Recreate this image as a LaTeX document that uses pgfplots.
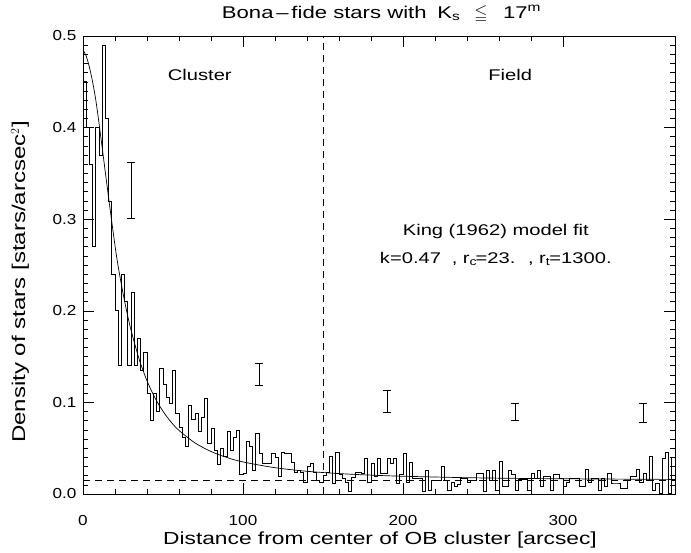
\documentclass[border=0pt]{standalone}
\usepackage{pgfplots}
\pgfplotsset{compat=1.18}
\usepackage{amssymb}
\usepackage{fontspec}
\setmainfont{Liberation Sans}[FakeStretch=1.3]
\newfontfamily\tickfont{Liberation Sans}[FakeStretch=1.18]
\begin{document}
\begin{tikzpicture}
\begin{axis}[
  scale only axis,
  width=592pt, height=458pt,
  xmin=0, xmax=370, ymin=0, ymax=0.5,
  xtick={0,100,200,300}, minor x tick num=4,
  ytick={0,0.1,0.2,0.3,0.4,0.5}, minor y tick num=9,
  tick align=inside, tick pos=both,
  major tick length=11pt, minor tick length=5pt,
  every tick/.style={black, line width=0.6pt},
  axis line style={line width=0.8pt},
  /pgf/number format/assume math mode=true,
  yticklabel style={/pgf/number format/fixed, /pgf/number format/fixed zerofill, /pgf/number format/precision=1, anchor=east, xshift=-3pt},
  xticklabel style={anchor=center, yshift=-27pt},
  ticklabel style={font=\tickfont\fontsize{14.5}{16}\selectfont},
  clip=true,
]
\coordinate (bl) at (rel axis cs:0,0);
% histogram
\addplot[const plot, mark=none, black, line width=0.7pt] coordinates {
(0,0.45) (2,0.40) (4,0.36) (6,0.27) (8,0.40) (10,0.37) (12,0.49) (14,0.41) (16,0.32) (18,0.24)
(20,0.20) (22,0.14) (24,0.24) (26,0.21) (28,0.14) (30,0.22) (32,0.14) (34,0.17) (36,0.135) (38,0.155)
(40,0.11) (42,0.08) (44,0.11) (46,0.09) (48,0.137) (50,0.12) (52,0.106) (54,0.099) (56,0.135) (58,0.088)
(60,0.073) (62,0.062) (64,0.052) (66,0.097) (68,0.081) (70,0.088) (72,0.068) (74,0.084) (76,0.104) (78,0.055)
(80,0.072) (82,0.048) (84,0.032) (86,0.05) (88,0.041) (90,0.068) (92,0.048) (94,0.062) (96,0.07) (98,0.021)
(100,0.023) (102,0.057) (104,0.052) (106,0.026) (108,0.066) (110,0.044) (112,0.033) (114,0.033) (116,0.033) (118,0.044)
(120,0.040) (122,0.019) (124,0.046) (126,0.044) (128,0.044) (130,0.035) (132,0.024) (134,0.026) (136,0.024) (138,0.013)
(140,0.03) (142,0.033) (144,0.024) (146,0.015) (148,0.013) (150,0.02) (152,0.024) (154,0.041) (156,0.012) (158,0.045)
(160,0.021) (162,0.017) (164,0.013) (166,0.003) (168,0.018) (170,0.024) (172,0.024) (174,0.023) (176,0.039) (178,0.013)
(180,0.033) (182,0.019) (184,0.039) (186,0.023) (188,0.023) (190,0.039) (192,0.033) (194,0.039) (196,0.012) (198,0.021)
(200,0.044) (202,0.013) (204,0.035) (206,0.017) (208,0.017) (210,0.017) (212,0.003) (214,0.026) (216,0.004) (218,0.015)
(220,0.015) (222,0.015) (224,0.03) (226,0.015) (228,0.004) (230,0.013) (232,0.008) (234,0.01) (236,0.017) (238,0.017)
(240,0.013) (242,0.015) (244,0.015) (246,0.023) (248,0.023) (250,0.003) (252,0.026) (254,0.015) (256,0.026) (258,0.004)
(260,0.036) (262,0.008) (264,0.008) (266,0.026) (268,0.021) (270,0.004) (272,0.016) (274,0.016) (276,0.016) (278,0.004)
(280,0.023) (282,0.017) (284,0.026) (286,0.008) (288,0.019) (290,0.019) (292,0.004) (294,0.021) (296,0.021) (298,0.017)
(300,0.008) (302,0.013) (304,0.017) (306,0.017) (308,0.017) (310,0.008) (312,0.008) (314,0.027) (316,0.013) (318,0.017)
(320,0.017) (322,0.004) (324,0.017) (326,0.008) (328,0.023) (330,0.012) (332,0.012) (334,0.012) (336,0.006) (338,0.006)
(340,0.015) (342,0.019) (344,0.019) (346,0.027) (348,0.013) (350,0.023) (352,0.015) (354,0.041) (356,0.004) (358,0.012)
(360,0.001) (362,0.039) (364,0.046) (366,0.001) (368,0.040) (370,0.040)
};
% King model curve
\addplot[smooth, mark=none, black, line width=0.7pt] coordinates {
(0,0.485) (2,0.478) (4,0.466) (6,0.450) (8,0.430) (10,0.405) (12,0.378) (15,0.337) (18,0.297)
(21,0.2592) (24,0.2286) (27,0.2020) (30,0.1790) (35,0.1478) (40,0.1236) (45,0.1049) (50,0.0903)
(55,0.0787) (60,0.0694) (70,0.0558) (80,0.0464) (90,0.0398) (100,0.0350) (120,0.0287) (140,0.0248)
(160,0.0223) (180,0.0206) (200,0.0194) (240,0.0178) (280,0.0169) (320,0.0164) (370,0.0159)
};
% background level
\addplot[dashed, black, line width=0.7pt, dash pattern=on 7pt off 5pt] coordinates {(0,0.015) (370,0.015)};
% cluster / field boundary
\addplot[dashed, black, line width=0.7pt, dash pattern=on 7pt off 5pt] coordinates {(150,0) (150,0.5)};
% error bars
\addplot[draw=none, mark=none, black, line width=0.7pt,
  error bars/.cd, y dir=both, y explicit,
  error bar style={line width=0.7pt},
  error mark options={rotate=90, mark size=4pt, line width=0.7pt}]
  coordinates {
  (30,0.3315) +- (0,0.0305)
  (110,0.131) +- (0,0.012)
  (190,0.1015) +- (0,0.012)
  (270,0.0895) +- (0,0.0095)
  (350,0.089) +- (0,0.0105)
};
\node[font=\fontsize{15.5}{17}\selectfont] at (axis cs:73,0.458) {Cluster};
\node[font=\fontsize{15.5}{17}\selectfont] at (axis cs:267,0.458) {Field};
\node[font=\fontsize{15.5}{17}\selectfont] at (axis cs:258,0.287) {King (1962) model fit};
\node[font=\fontsize{15.5}{17}\selectfont] at (axis cs:258,0.257) {k=0.47\,\, , r$_\mathrm{c}$=23.\,\, , r$_\mathrm{t}$=1300.};
\end{axis}
\node[font=\fontsize{17}{19}\selectfont] at ([xshift=297pt,yshift=480pt]bl) {Bona\,--\,fide stars with\; K$_\mathrm{s}$\;\; $\leqq$\;\; 17$^\mathrm{m}$};
\node[font=\fontsize{17.5}{19}\selectfont] at ([xshift=297pt,yshift=-46pt]bl) {Distance from center of OB cluster [arcsec]};
\node[font=\fontsize{18.5}{20}\selectfont, rotate=90] at ([xshift=-63pt,yshift=212pt]bl) {Density of stars [stars/arcsec$^2$]};
\pgfresetboundingbox
\path (bl) ++(-83pt,-58pt) rectangle ++(691pt,552pt);
\end{tikzpicture}
\end{document}
